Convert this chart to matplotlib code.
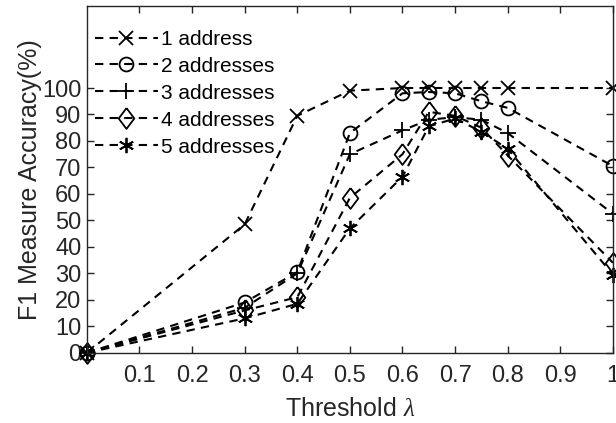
import numpy as np
import matplotlib.pyplot as plt

plt.rcParams['font.family'] = ['Liberation Sans', 'DejaVu Sans']
plt.rcParams['mathtext.fontset'] = 'custom'
plt.rcParams['mathtext.it'] = 'Liberation Serif:italic'

thresh = [0, 0.3, 0.4, 0.5, 0.6, 0.65, 0.7, 0.75, 0.8, 1.0]
acc_1 = [0, 48.5, 89.5, 99, 100, 100, 100, 100, 100, 100]
acc_2 = [0, 19, 30.5, 83, 98, 98.5, 98, 95, 92.5, 70.5]
acc_3 = [0, 17, 30, 75, 84, 88, 89, 88, 83, 52.5]
acc_4 = [0, 16, 21, 58.5, 75, 91, 89.5, 85, 74.5, 34]
acc_5 = [0, 13, 18.5, 47, 66.5, 85.5, 88.5, 83.5, 77, 29.5]
labels = ['1 address', '2 addresses', '3 addresses', '4 addresses', '5 addresses']

series = [acc_1, acc_2, acc_3, acc_4, acc_5]
diamond = [(0, 1), (0.75, 0), (0, -1), (-0.75, 0), (0, 1)]
markers = ['x', 'o', '+', diamond, (6, 2, 0)]
sizes = [10, 10, 12, 15, 11]

fig = plt.figure(figsize=(6.16, 4.23), dpi=100)
ax = fig.add_axes([0.141, 0.166, 0.854, 0.820])

for s, m, ms, lab in zip(series, markers, sizes, labels):
    ax.plot(thresh, s, linestyle='--', color='black', linewidth=1.5,
            marker=m, markersize=ms, markerfacecolor='none',
            markeredgecolor='black', markeredgewidth=1.3, label=lab,
            dashes=(4, 3), clip_on=False)

ax.set_xlim(0, 1)
ax.set_ylim(0, 131)
ax.set_xticks([0.1, 0.2, 0.3, 0.4, 0.5, 0.6, 0.7, 0.8, 0.9, 1])
ax.set_xticklabels(['0.1', '0.2', '0.3', '0.4', '0.5', '0.6', '0.7', '0.8', '0.9', '1'])
ax.set_yticks(np.arange(0, 101, 10))
ax.tick_params(direction='in', top=True, right=True, labelsize=17,
               colors='#262626', length=5, width=1)
ax.tick_params(axis='x', pad=9)
ax.tick_params(axis='y', pad=4)
for sp in ax.spines.values():
    sp.set_color('#262626')
    sp.set_linewidth(1)

ax.set_xlabel(r'Threshold $\lambda$', fontsize=18, color='#262626', labelpad=7)
ax.set_ylabel('F1 Measure Accuracy(%)', fontsize=18, color='#262626', labelpad=0)

ax.legend(loc='upper left', frameon=False, fontsize=15, handlelength=3.0,
          handletextpad=0.15, labelspacing=0.38, borderaxespad=0.0,
          bbox_to_anchor=(0.0, 0.955))

fig.savefig('out.png', dpi=100)
